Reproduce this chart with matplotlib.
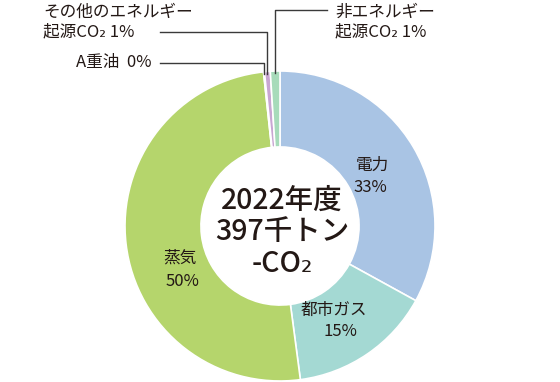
import matplotlib
matplotlib.use("Agg")
import matplotlib.pyplot as plt
import numpy as np

plt.rcParams['font.family'] = ['Noto Sans CJK JP', 'DejaVu Sans']

categories = ['電力', '都市ガス', '蒸気', 'A重油', 'その他のエネルギー起源CO2', '非エネルギー起源CO2']
values = [33.0, 14.9, 50.4, 0.1, 0.6, 1.0]
pct_labels = ['33%', '15%', '50%', '0%', '1%', '1%']
colors = ['#a9c4e4', '#a4d9d3', '#b5d56c', '#e6b0c0', '#c8a6d2', '#a7dbba']
title_lines = ['2022年度', '397千トン', '-CO₂']

TXT = '#231815'
W, H = 560, 382
fig = plt.figure(figsize=(W / 100, H / 100), dpi=100)
ax = fig.add_axes([0, 0, 1, 1])
ax.set_xlim(0, W)
ax.set_ylim(0, H)
ax.set_aspect('equal')
ax.axis('off')

cx, cy = 280, H - 226
R = 155
ring = 0.49
wedges, _ = ax.pie(values, colors=colors, startangle=90, counterclock=False,
                   center=(cx, cy), radius=R, frame=True,
                   wedgeprops=dict(width=R * ring, edgecolor='white', linewidth=1.2))
ax.set_xlim(0, W)
ax.set_ylim(0, H)
ax.axis('off')

fs = 12
# inside labels
inside = {0: (372, 165, 370, 188), 1: (334, 310, 340, 332), 2: (180, 258, 182, 281)}
for i, (x1, y1, x2, y2) in inside.items():
    ax.text(x1, H - y1, categories[i], ha='center', va='center', fontsize=fs, color=TXT)
    ax.text(x2, H - y2, pct_labels[i], ha='center', va='center', fontsize=fs, color=TXT)

# center text
for k, (t, y) in enumerate(zip(title_lines, [200, 231, 263])):
    ax.text(cx + 2, H - y, t, ha='center', va='center', fontsize=20.5,
            fontweight='medium', color=TXT)

# leader lines
def wedge_x(i):
    w = wedges[i]
    th = np.deg2rad((w.theta1 + w.theta2) / 2)
    return cx + R * np.cos(th), cy + R * np.sin(th)

lc = '#3a3a3a'
# A重油
x0, y0 = wedge_x(3)
ax.plot([x0, x0, 160], [y0 - 2, H - 63, H - 63], color=lc, lw=1)
ax.text(152, H - 63, 'A重油  ' + pct_labels[3], ha='right', va='center', fontsize=fs, color=TXT)
# その他
x0, y0 = wedge_x(4)
ax.plot([x0, x0, 160], [y0 - 2, H - 32, H - 32], color=lc, lw=1)
ax.text(43, H - 12, 'その他のエネルギー', ha='left', va='center', fontsize=fs, color=TXT)
ax.text(43, H - 32, '起源CO₂ ' + pct_labels[4], ha='left', va='center', fontsize=fs, color=TXT)
# 非エネルギー
x0, y0 = wedge_x(5)
ax.plot([x0, x0, 327], [y0 - 2, H - 10, H - 10], color=lc, lw=1)
ax.text(335, H - 12, '非エネルギー', ha='left', va='center', fontsize=fs, color=TXT)
ax.text(335, H - 32, '起源CO₂ ' + pct_labels[5], ha='left', va='center', fontsize=fs, color=TXT)

fig.savefig('out.png', dpi=100, facecolor='white')
